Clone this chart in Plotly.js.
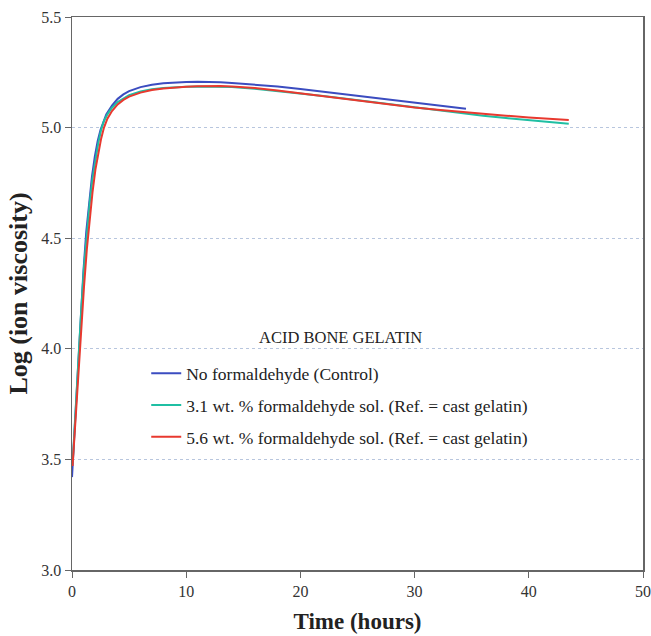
<!DOCTYPE html>
<html>
<head>
<meta charset="utf-8">
<script src="https://cdn.plot.ly/plotly-3.0.1.min.js"></script>
<style>html,body{margin:0;padding:0;background:#fff;}#chart{width:651px;height:636px;}</style>
</head>
<body>
<div id="chart"></div>
<script>
// Data
const seriesNames = [
  "No formaldehyde (Control)",
  "3.1 wt. % formaldehyde sol. (Ref. = cast gelatin)",
  "5.6 wt. % formaldehyde sol. (Ref. = cast gelatin)"
];
const controlTime = [0,0.25,0.5,0.75,1.0,1.25,1.5,1.75,2.0,2.25,2.5,2.75,3.0,3.5,4.0,4.5,5,6,7,8,9,10,11,12,13,14,16,18,20,22,24,26,28,30,32,34.5];
const controlLogVisc = [3.42,3.66,3.90,4.13,4.35,4.53,4.67,4.78,4.87,4.94,4.99,5.03,5.06,5.10,5.13,5.15,5.165,5.183,5.194,5.200,5.204,5.206,5.207,5.207,5.205,5.202,5.195,5.186,5.175,5.163,5.150,5.137,5.124,5.112,5.100,5.085];
const f31Time = [0.05,0.3,0.55,0.8,1.05,1.3,1.55,1.8,2.05,2.3,2.55,2.8,3.1,3.5,4.0,4.5,5,6,7,8,9,10,11,12,13,14,16,18,20,22,24,26,28,30,32,34,36,38,40,42,43.5];
const f31LogVisc = [3.48,3.72,3.95,4.17,4.37,4.53,4.66,4.77,4.86,4.93,4.99,5.03,5.06,5.09,5.115,5.133,5.147,5.163,5.173,5.179,5.183,5.185,5.186,5.186,5.185,5.183,5.176,5.166,5.155,5.143,5.130,5.117,5.104,5.091,5.078,5.066,5.054,5.043,5.033,5.024,5.017];
const f56Time = [0.05,0.3,0.55,0.8,1.05,1.3,1.55,1.8,2.05,2.3,2.55,2.8,3.1,3.5,4.0,4.5,5,6,7,8,9,10,11,12,13,14,16,18,20,22,24,26,28,30,32,34,36,38,40,42,43.5];
const f56LogVisc = [3.47,3.68,3.89,4.09,4.28,4.45,4.59,4.71,4.81,4.89,4.95,5.00,5.04,5.075,5.105,5.125,5.140,5.158,5.170,5.177,5.182,5.185,5.187,5.188,5.188,5.186,5.179,5.168,5.155,5.141,5.127,5.114,5.102,5.091,5.081,5.071,5.062,5.054,5.046,5.039,5.034];
const colors = ["#3b4cc0", "#1fbfa3", "#e8392f"];
const xTickVals = [0,10,20,30,40,50];
const yTickVals = [3.0,3.5,4.0,4.5,5.0,5.5];

const serif = "Liberation Serif, Times New Roman, serif";
const xs = [controlTime, f31Time, f56Time];
const ys = [controlLogVisc, f31LogVisc, f56LogVisc];
const traces = xs.map((x, i) => ({
  x: x, y: ys[i], type: "scatter", mode: "lines",
  name: seriesNames[i], legendgroup: "g" + i,
  line: {color: colors[i], width: 2}
}));

const axisCommon = {
  showline: true, mirror: true, linecolor: "#666", linewidth: 1.5,
  ticks: "outside", ticklen: 6, tickcolor: "#666", tickwidth: 1,
  tickfont: {family: serif, size: 16, color: "#333"},
  zeroline: false
};

const layout = {
  width: 651, height: 636,
  margin: {l: 72, r: 8, t: 17, b: 66},
  paper_bgcolor: "#fff", plot_bgcolor: "#fff",
  showlegend: true,
  legend: {
    x: 0.13, y: 0.388, xanchor: "left", yanchor: "top",
    font: {family: serif, size: 17.5, color: "#222"},
    bgcolor: "rgba(0,0,0,0)", traceorder: "grouped", tracegroupgap: 6
  },
  xaxis: Object.assign({}, axisCommon, {
    range: [0, 50], tickvals: xTickVals, showgrid: false,
    title: {text: "Time (hours)", font: {family: serif, size: 23, color: "#222", weight: "bold"}, standoff: 14}
  }),
  yaxis: Object.assign({}, axisCommon, {
    range: [3, 5.5], tickvals: yTickVals, tickformat: ".1f",
    showgrid: true, gridcolor: "#b8c6de", gridwidth: 1, griddash: "dot",
    title: {text: "Log (ion viscosity)", font: {family: serif, size: 26, color: "#222", weight: "bold"}, standoff: 6}
  }),
  annotations: [{
    text: "ACID BONE GELATIN", xref: "paper", yref: "paper",
    x: 0.471, y: 0.421, xanchor: "center", yanchor: "middle", showarrow: false,
    font: {family: serif, size: 16.5, color: "#222"}
  }]
};

Plotly.newPlot("chart", traces, layout, {displayModeBar: false, staticPlot: true});
</script>
</body>
</html>
